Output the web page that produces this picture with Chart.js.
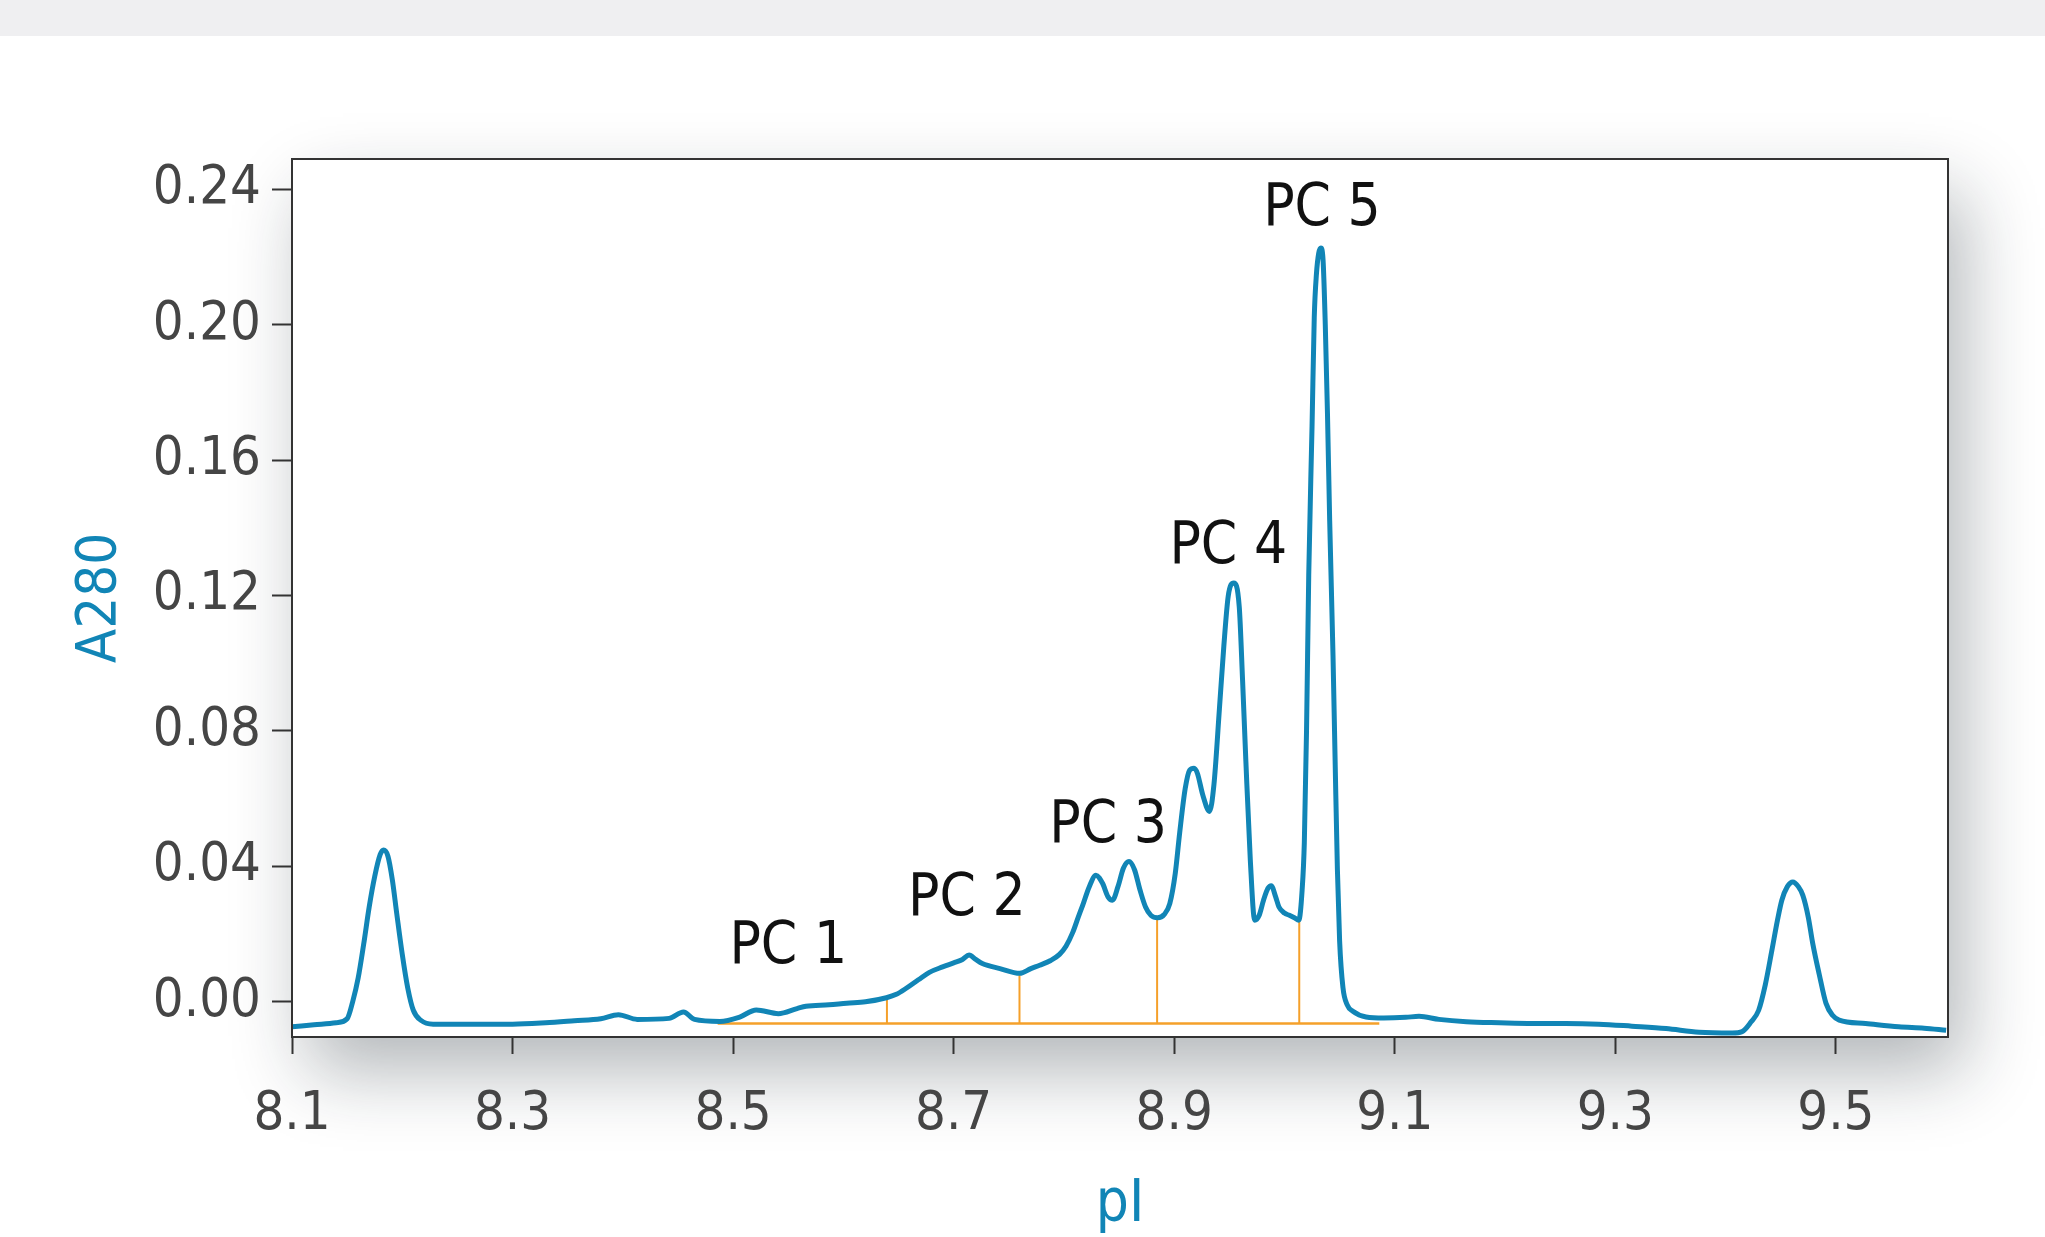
<!DOCTYPE html>
<html>
<head>
<meta charset="utf-8">
<title>A280 vs pI</title>
<script src="https://cdn.jsdelivr.net/npm/chart.js@4.4.1/dist/chart.umd.min.js"></script>
<style>
  html, body { margin: 0; padding: 0; background: #fff; }
  #band { position: absolute; left: 0; top: 0; width: 2045px; height: 36px; background: #efeff1; }
  #wrap { position: absolute; left: 0; top: 0; width: 2045px; height: 1237px; }
</style>
</head>
<body>
<div id="band"></div>
<div id="wrap"><canvas id="pi-chart"></canvas></div>
<script>
// Trace
const pI = [
  8.100, 8.120, 8.140, 8.150, 8.155, 8.160, 8.165, 8.170, 8.175, 8.180,
  8.183, 8.187, 8.191, 8.195, 8.200, 8.205, 8.210, 8.217, 8.228, 8.260,
  8.300, 8.330, 8.356, 8.380, 8.396, 8.413, 8.442, 8.455, 8.465, 8.488,
  8.506, 8.521, 8.541, 8.558, 8.566, 8.587, 8.603, 8.620, 8.639, 8.648,
  8.657, 8.668, 8.678, 8.690, 8.700, 8.708, 8.714, 8.720, 8.726, 8.742,
  8.760, 8.770, 8.778, 8.788, 8.796, 8.802, 8.808, 8.813, 8.817, 8.823,
  8.829, 8.835, 8.840, 8.844, 8.849, 8.854, 8.859, 8.864, 8.869, 8.874,
  8.879, 8.885, 8.891, 8.896, 8.901, 8.905, 8.910, 8.914, 8.918, 8.921,
  8.926, 8.932, 8.936, 8.941, 8.945, 8.949, 8.954, 8.959, 8.962, 8.965,
  8.969, 8.973, 8.977, 8.981, 8.985, 8.988, 8.992, 8.995, 9.000, 9.004,
  9.009, 9.013, 9.016, 9.018, 9.020, 9.022, 9.025, 9.027, 9.029, 9.031,
  9.033, 9.035, 9.037, 9.039, 9.041, 9.044, 9.046, 9.048, 9.050, 9.053,
  9.057, 9.062, 9.074, 9.090, 9.110, 9.122, 9.140, 9.165, 9.195, 9.225,
  9.255, 9.285, 9.315, 9.346, 9.376, 9.406, 9.415, 9.423, 9.430, 9.436,
  9.442, 9.447, 9.451, 9.456, 9.461, 9.466, 9.470, 9.475, 9.479, 9.485,
  9.491, 9.497, 9.503, 9.527, 9.557, 9.580, 9.600
];
const a280 = [
  -0.0074, -0.0068, -0.0062, -0.0050, 0.0000, 0.0070, 0.0170, 0.0280, 0.0370, 0.0435,
  0.0448, 0.0430, 0.0360, 0.0260, 0.0140, 0.0040, -0.0025, -0.0055, -0.0066, -0.0066,
  -0.0066, -0.0062, -0.0056, -0.0050, -0.0038, -0.0052, -0.0049, -0.0030, -0.0052, -0.0058,
  -0.0045, -0.0024, -0.0035, -0.0020, -0.0013, -0.0009, -0.0004, 0.0000, 0.0012, 0.0022,
  0.0040, 0.0065, 0.0087, 0.0103, 0.0115, 0.0125, 0.0138, 0.0125, 0.0113, 0.0098,
  0.0084, 0.0098, 0.0108, 0.0122, 0.0140, 0.0165, 0.0205, 0.0250, 0.0285, 0.0340,
  0.0374, 0.0350, 0.0310, 0.0300, 0.0340, 0.0395, 0.0414, 0.0390, 0.0330, 0.0280,
  0.0255, 0.0248, 0.0258, 0.0290, 0.0380, 0.0500, 0.0630, 0.0684, 0.0690, 0.0675,
  0.0610, 0.0562, 0.0640, 0.0865, 0.1050, 0.1198, 0.1237, 0.1166, 0.0950, 0.0710,
  0.0420, 0.0241, 0.0255, 0.0300, 0.0335, 0.0343, 0.0310, 0.0280, 0.0262, 0.0256,
  0.0248, 0.0241, 0.0330, 0.0470, 0.0800, 0.1260, 0.1700, 0.2020, 0.2150, 0.2210,
  0.2226, 0.2190, 0.2000, 0.1736, 0.1420, 0.1024, 0.0700, 0.0390, 0.0180, 0.0043,
  -0.0010, -0.0028, -0.0045, -0.0048, -0.0046, -0.0043, -0.0052, -0.0059, -0.0062, -0.0064,
  -0.0064, -0.0066, -0.0072, -0.0079, -0.0090, -0.0092, -0.0088, -0.0060, -0.0025, 0.0050,
  0.0152, 0.0240, 0.0300, 0.0340, 0.0354, 0.0340, 0.0315, 0.0250, 0.0173, 0.0080,
  -0.0004, -0.0040, -0.0054, -0.0064, -0.0074, -0.0078, -0.0084
];

// Axis ticks
const xTicks = [8.1, 8.3, 8.5, 8.7, 8.9, 9.1, 9.3, 9.5];
const yTicks = [0, 0.04, 0.08, 0.12, 0.16, 0.20, 0.24];

// Orange integration baseline and fraction cuts
const baselineLevel = -0.0064;
const baselineFrom = 8.486;
const baselineTo = 9.086;
const cutPI = [8.6395, 8.7597, 8.8845, 9.0134];
const cutTop = [0.0012, 0.0084, 0.0248, 0.0241];

// Peak group labels (in data units)
const peakNames = ['PC 1', 'PC 2', 'PC 3', 'PC 4', 'PC 5'];
const peakLabelPI = [8.550, 8.712, 8.840, 8.949, 9.034];
const peakLabelA = [0.0158, 0.0300, 0.0516, 0.1340, 0.2340];

const FONT = '"Liberation Sans Narrow", "DejaVu Sans Condensed", "Liberation Sans", sans-serif';
const BLUE = '#1185b6';
const ORANGE = '#f5a02a';
const AXIS = '#333333';

const traceData = pI.map((x, i) => ({ x: x, y: a280[i] }));

const datasets = [{
  label: 'A280',
  data: traceData,
  borderColor: BLUE,
  borderWidth: 5,
  pointRadius: 0,
  cubicInterpolationMode: 'monotone'
}, {
  label: 'baseline',
  data: [{ x: baselineFrom, y: baselineLevel }, { x: baselineTo, y: baselineLevel }],
  borderColor: ORANGE,
  borderWidth: 2.5,
  pointRadius: 0
}];

cutPI.forEach((x, i) => {
  datasets.push({
    label: 'cut ' + (i + 1),
    data: [{ x: x, y: baselineLevel }, { x: x, y: cutTop[i] }],
    borderColor: ORANGE,
    borderWidth: 2,
    pointRadius: 0
  });
});

// Soft drop shadow behind the plot box
const shadowBox = {
  id: 'shadowBox',
  beforeDraw(chart) {
    const { ctx, chartArea: a } = chart;
    ctx.save();
    ctx.shadowColor = 'rgba(20, 30, 40, 0.32)';
    ctx.shadowBlur = 70;
    ctx.shadowOffsetX = 16;
    ctx.shadowOffsetY = 34;
    ctx.fillStyle = '#ffffff';
    ctx.fillRect(a.left, a.top, a.right - a.left, a.bottom - a.top);
    ctx.restore();
  }
};

// Frame on top and right, plus the PC labels
const frameAndLabels = {
  id: 'frameAndLabels',
  afterDatasetsDraw(chart) {
    const { ctx, chartArea: a, scales } = chart;
    ctx.save();
    ctx.strokeStyle = AXIS;
    ctx.lineWidth = 2;
    ctx.strokeRect(a.left, a.top, a.right - a.left, a.bottom - a.top);

    ctx.fillStyle = '#111111';
    ctx.font = '58px ' + FONT;
    ctx.textAlign = 'center';
    ctx.textBaseline = 'middle';
    peakNames.forEach((name, i) => {
      ctx.fillText(name, scales.x.getPixelForValue(peakLabelPI[i]), scales.y.getPixelForValue(peakLabelA[i]));
    });
    ctx.restore();
  }
};

new Chart(document.getElementById('pi-chart'), {
  type: 'line',
  data: { datasets: datasets },
  options: {
    responsive: true,
    maintainAspectRatio: false,
    animation: false,
    layout: { padding: { left: 0, top: 159, right: 97, bottom: 0 } },
    plugins: { legend: { display: false }, tooltip: { enabled: false } },
    scales: {
      x: {
        type: 'linear',
        min: 8.1,
        max: 9.6017,
        afterBuildTicks: s => { s.ticks = xTicks.map(v => ({ value: v })); },
        afterFit: s => { s.height = 200; },
        grid: { drawOnChartArea: false, tickLength: 17, tickWidth: 2, tickColor: AXIS },
        border: { color: AXIS, width: 2 },
        ticks: {
          padding: 29,
          color: '#454545',
          font: { family: FONT, size: 54 },
          callback: v => v.toFixed(1)
        },
        title: {
          display: true,
          text: 'pI',
          color: BLUE,
          font: { family: FONT, size: 58, lineHeight: 1 },
          padding: { top: 0, bottom: 2 }
        }
      },
      y: {
        type: 'linear',
        min: -0.0104,
        max: 0.2489,
        afterBuildTicks: s => { s.ticks = yTicks.map(v => ({ value: v })); },
        afterFit: s => { s.width = 292; },
        grid: { drawOnChartArea: false, tickLength: 20, tickWidth: 2, tickColor: AXIS },
        border: { color: AXIS, width: 2 },
        ticks: {
          padding: 11,
          color: '#454545',
          font: { family: FONT, size: 54 },
          callback: v => v.toFixed(2)
        },
        title: {
          display: true,
          text: 'A280',
          color: BLUE,
          font: { family: FONT, size: 56 },
          padding: { top: 67, bottom: 0 }
        }
      }
    }
  },
  plugins: [shadowBox, frameAndLabels]
});
</script>
</body>
</html>
